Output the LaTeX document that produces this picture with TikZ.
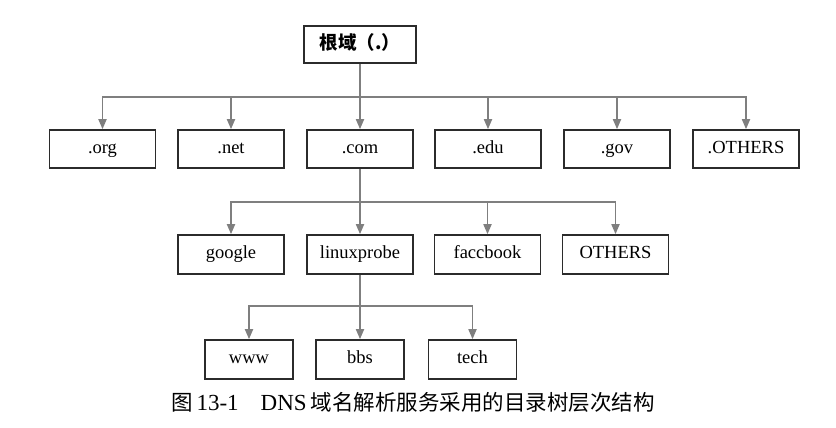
\documentclass[tikz,border=0pt]{standalone}
\usepackage{fontspec}
\setmainfont{Liberation Serif}
\newfontfamily\cjk{Noto Sans CJK SC}
\usetikzlibrary{arrows.meta}
\definecolor{boxc}{HTML}{2B2B2B}
\definecolor{linec}{HTML}{7F7F7F}
\begin{document}
\begin{tikzpicture}[x=1pt,y=1pt,
  box/.style={draw=boxc, line width=1.6pt, fill=white, minimum height=38pt,
    minimum width=106pt, inner sep=0pt, text height=12.5pt, text depth=4.5pt,
    font=\fontsize{18.5}{20}\selectfont},
  smallbox/.style={box, minimum width=88pt, minimum height=39pt},
  conn/.style={draw=linec, line width=1.7pt},
  arr/.style={conn, -{Triangle[length=10pt,width=8pt]}, color=linec}]
\useasboundingbox (0,0) rectangle (836,-428);
% root
\node[box, minimum width=112pt, minimum height=37pt, text height=14pt, text depth=3pt,
  font=\cjk\bfseries\fontsize{18.5}{20}\selectfont] (root) at (360,-44.5) {根域（.）};
% level 1
\node[box] (org) at (102.5,-149) {.org};
\node[box] (net) at (231,-149) {.net};
\node[box] (com) at (360,-149) {.com};
\node[box] (edu) at (488,-149) {.edu};
\node[box] (gov) at (617,-149) {.gov};
\node[box] (oth) at (746,-149) {.OTHERS};
% level 2
\node[box, minimum height=39pt] (google) at (231,-254.5) {google};
\node[box, minimum height=39pt] (linux) at (360,-254.5) {linuxprobe};
\node[box, minimum height=39pt] (fb) at (487.5,-254.5) {faccbook};
\node[box, minimum height=39pt] (oth2) at (615.5,-254.5) {OTHERS};
% level 3
\node[smallbox] (www) at (249,-359.5) {www};
\node[smallbox] (bbs) at (360,-359.5) {bbs};
\node[smallbox] (tech) at (472.5,-359.5) {tech};
% bus points
\coordinate (b1) at (360,-97);
\coordinate (b2) at (360,-202);
\coordinate (b3) at (360,-306);
% connectors
\draw[conn] (root.south) -- (b1);
\foreach \n in {org,net,com,edu,gov,oth} \draw[arr] (b1) -| (\n.north);
\draw[conn] (com.south) -- (b2);
\foreach \n in {google,linux,fb,oth2} \draw[arr] (b2) -| (\n.north);
\draw[conn] (linux.south) -- (b3);
\foreach \n in {www,bbs,tech} \draw[arr] (b3) -| (\n.north);
% caption
\node[anchor=west, inner sep=0pt, font=\fontsize{23}{25}\selectfont] (cap) at (171,-402)
  {{\cjk\fontsize{21.5}{24}\selectfont 图}\,13-1\hspace{22pt}DNS\hspace{4pt}{\cjk\fontsize{21.5}{24}\selectfont 域名解析服务采用的目录树层次结构}};
\end{tikzpicture}
\end{document}
